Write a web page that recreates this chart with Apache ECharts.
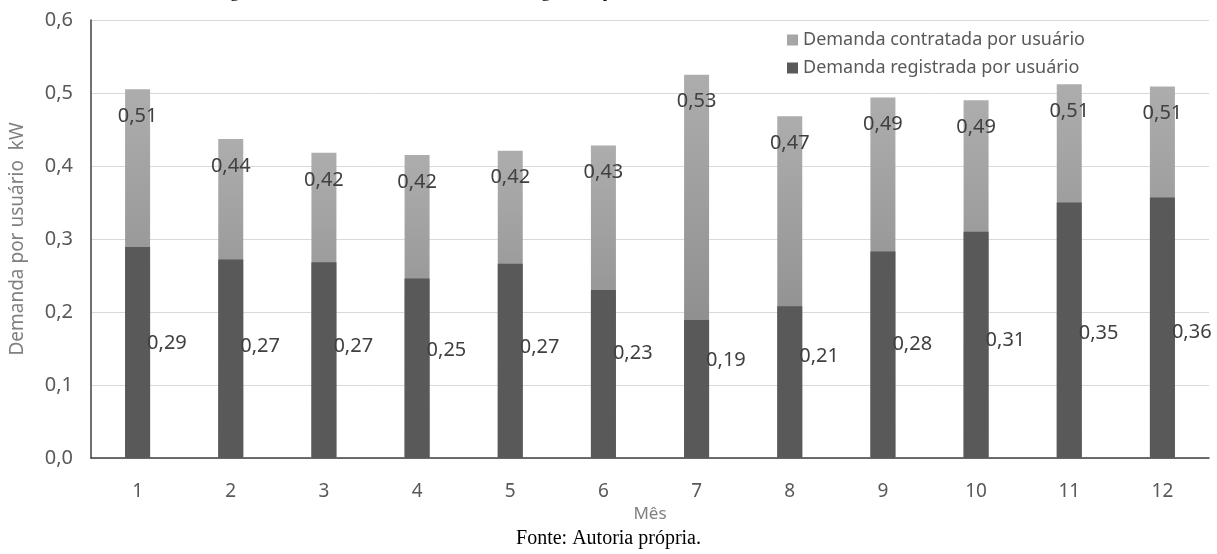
<!DOCTYPE html>
<html>
<head>
<meta charset="utf-8">
<script src="https://cdn.jsdelivr.net/npm/echarts@6/dist/echarts.min.js"></script>
<style>html,body{margin:0;padding:0;background:#fff}#c{width:1217px;height:554px}</style>
</head>
<body>
<div id="c"></div>
<script>
const months = ['1','2','3','4','5','6','7','8','9','10','11','12'];
const contratada = [0.505, 0.437, 0.418, 0.415, 0.421, 0.428, 0.525, 0.468, 0.494, 0.49, 0.512, 0.509];
const registrada = [0.289, 0.272, 0.268, 0.246, 0.266, 0.230, 0.189, 0.208, 0.283, 0.310, 0.350, 0.357];
const yTicks = [0, 0.1, 0.2, 0.3, 0.4, 0.5, 0.6];
const seriesNames = ['Demanda contratada por usuário', 'Demanda registrada por usuário'];

const fmt = v => (Math.round(v * 100 + 1e-6) / 100).toFixed(2).replace('.', ',');
const FONT = 'Noto Sans';

const chart = echarts.init(document.getElementById('c'), null, {renderer: 'canvas'});
chart.setOption({
  backgroundColor: '#ffffff',
  animation: false,
  grid: {left: 89, right: 8, top: 20, bottom: 96, containLabel: false},
  legend: {
    orient: 'vertical', left: 782, top: 26, itemGap: 10,
    itemWidth: 11, itemHeight: 11, icon: 'rect',
    textStyle: {fontFamily: FONT, fontSize: 18, color: '#595959'},
    data: [
      {name: seriesNames[0], itemStyle: {color: '#a6a6a6'}},
      {name: seriesNames[1], itemStyle: {color: '#595959'}}
    ]
  },
  xAxis: {
    type: 'category', data: months,
    axisLine: {lineStyle: {color: '#404040', width: 1.5}},
    axisTick: {show: false},
    axisLabel: {margin: 24, fontFamily: FONT, fontSize: 19, color: '#595959'},
    name: 'Mês', nameLocation: 'middle', nameGap: 43,
    nameTextStyle: {fontFamily: FONT, fontSize: 17, color: '#808080'}
  },
  yAxis: {
    type: 'value', min: yTicks[0], max: yTicks[yTicks.length - 1], interval: 0.1,
    axisLine: {show: true, lineStyle: {color: '#404040', width: 1.5}},
    axisTick: {show: false},
    splitLine: {lineStyle: {color: '#d9d9d9', width: 1}},
    axisLabel: {margin: 18, fontFamily: FONT, fontSize: 20, color: '#595959',
      formatter: v => v.toFixed(1).replace('.', ',')},
    name: 'Demanda por usuário  kW', nameLocation: 'middle', nameGap: 64,
    nameTextStyle: {fontFamily: FONT, fontSize: 19, color: '#808080'}
  },
  series: [
    {
      name: seriesNames[0], type: 'bar', barWidth: 25, barGap: '-100%',
      itemStyle: {color: new echarts.graphic.LinearGradient(0, 0, 0, 1, [
        {offset: 0, color: '#adadad'}, {offset: 1, color: '#7f7f7f'}])},
      label: {show: true, position: 'insideTop', distance: 17,
        fontFamily: FONT, fontSize: 20, color: '#404040',
        formatter: p => fmt(p.value)},
      data: contratada
    },
    {
      name: seriesNames[1], type: 'bar', barWidth: 25, barGap: '-100%',
      itemStyle: {color: '#595959'},
      label: {show: true, fontFamily: FONT, fontSize: 20, color: '#404040',
        formatter: p => fmt(p.value)},
      data: registrada.map(v => ({
        value: v,
        label: {position: ['100%', '100%'], align: 'left', verticalAlign: 'middle',
          offset: [-3, -(67 + 165 * v)]}
      }))
    }
  ],
  graphic: [
    {type: 'text', left: 'center', top: 529,
      style: {text: 'Fonte: Autoria própria.', font: '20px "Liberation Serif"', fill: '#000'}},
    {type: 'text', x: 215, y: -17,
      style: {text: 'Figura 36: Média da demanda contratada e registrada por usuário no ano de 2019',
        font: '18px "Liberation Serif"', fill: '#000'}}
  ]
});
</script>
</body>
</html>
